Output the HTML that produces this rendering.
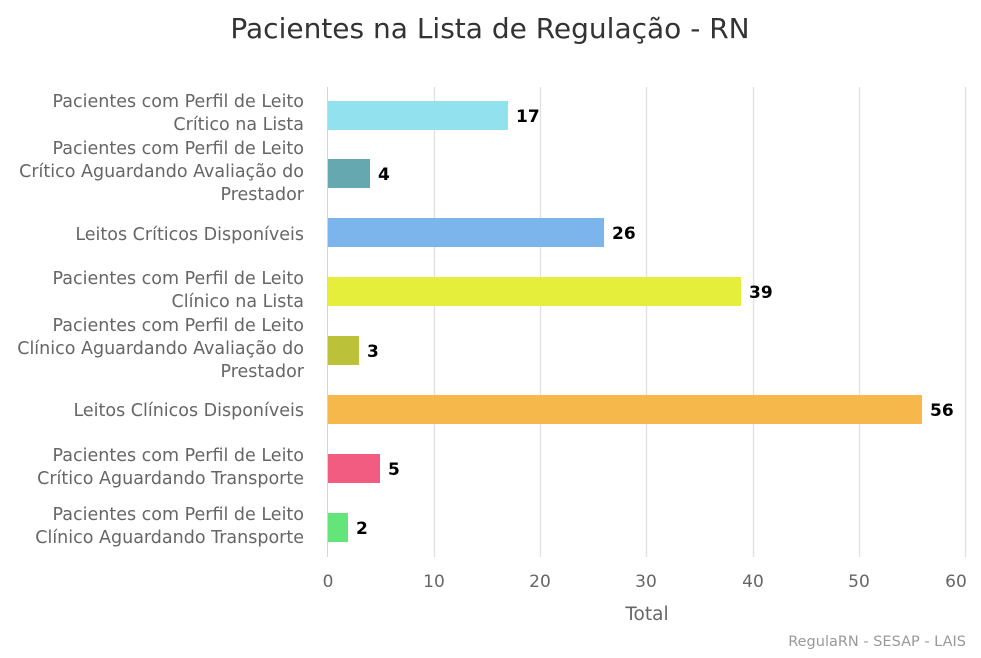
<!DOCTYPE html>
<html><head><meta charset="utf-8"><style>
html,body{margin:0;padding:0;background:#fff;}
</style></head><body>
<svg width="981" height="653" xmlns="http://www.w3.org/2000/svg" font-family="DejaVu Sans, Liberation Sans, sans-serif">
<rect width="981" height="653" fill="#fff"/>
<text x="490" y="38" text-anchor="middle" font-size="28" fill="#333">Pacientes na Lista de Regulação - RN</text>
<g stroke="#e0e0e0" stroke-width="1.3">
<line x1="434.5" y1="87" x2="434.5" y2="557"/>
<line x1="540.5" y1="87" x2="540.5" y2="557"/>
<line x1="646.5" y1="87" x2="646.5" y2="557"/>
<line x1="753.5" y1="87" x2="753.5" y2="557"/>
<line x1="859.5" y1="87" x2="859.5" y2="557"/>
<line x1="965.5" y1="87" x2="965.5" y2="557"/>
</g>
<line x1="327.5" y1="87" x2="327.5" y2="557" stroke="#ccd6eb"/>
<g>
<rect x="328" y="101" width="180" height="29" fill="#91e1ee"/>
<rect x="328" y="159" width="42" height="29" fill="#66a8b0"/>
<rect x="328" y="218" width="276" height="29" fill="#7cb5ec"/>
<rect x="328" y="277" width="413" height="29" fill="#e4ee3b"/>
<rect x="328" y="336" width="31" height="29" fill="#bcc13a"/>
<rect x="328" y="395" width="594" height="29" fill="#f7b84b"/>
<rect x="328" y="454" width="52" height="29" fill="#f15c80"/>
<rect x="328" y="513" width="20" height="29" fill="#63e57a"/>
</g>
<g font-size="17" font-weight="bold" fill="#000">
<text x="516" y="122">17</text>
<text x="378" y="180">4</text>
<text x="612" y="239">26</text>
<text x="749" y="298">39</text>
<text x="367" y="357">3</text>
<text x="930" y="416">56</text>
<text x="388" y="475">5</text>
<text x="356" y="534">2</text>
</g>
<g font-size="17.5" fill="#666" text-anchor="end">
<text x="304" y="107">Pacientes com Perfil de Leito</text>
<text x="304" y="130">Crítico na Lista</text>
<text x="304" y="154">Pacientes com Perfil de Leito</text>
<text x="304" y="177">Crítico Aguardando Avaliação do</text>
<text x="304" y="200">Prestador</text>
<text x="304" y="240">Leitos Críticos Disponíveis</text>
<text x="304" y="284">Pacientes com Perfil de Leito</text>
<text x="304" y="307">Clínico na Lista</text>
<text x="304" y="331">Pacientes com Perfil de Leito</text>
<text x="304" y="354">Clínico Aguardando Avaliação do</text>
<text x="304" y="377">Prestador</text>
<text x="304" y="416">Leitos Clínicos Disponíveis</text>
<text x="304" y="461">Pacientes com Perfil de Leito</text>
<text x="304" y="484">Crítico Aguardando Transporte</text>
<text x="304" y="520">Pacientes com Perfil de Leito</text>
<text x="304" y="543">Clínico Aguardando Transporte</text>
</g>
<g font-size="17" fill="#666" text-anchor="middle">
<text x="328" y="587">0</text>
<text x="434" y="587">10</text>
<text x="540" y="587">20</text>
<text x="646" y="587">30</text>
<text x="753" y="587">40</text>
<text x="859" y="587">50</text>
<text x="956" y="587">60</text>
<text x="647" y="620" font-size="18.5">Total</text>
</g>
<text x="966" y="646" text-anchor="end" font-size="14.5" fill="#999">RegulaRN - SESAP - LAIS</text>
</svg>
</body></html>
